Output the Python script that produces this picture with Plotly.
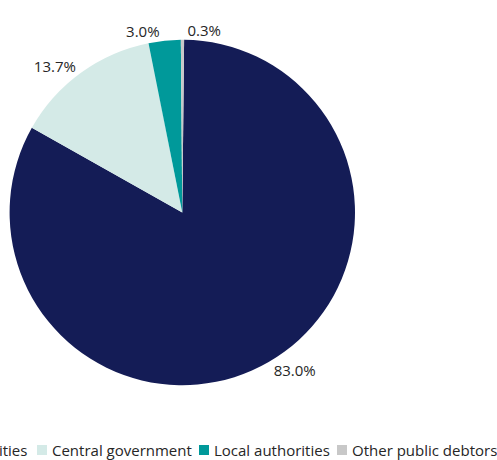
import plotly.graph_objects as go

labels = ["Municipalities", "Central government", "Local authorities", "Other public debtors"]
values = [83.0, 13.7, 3.0, 0.3]
colors = ["#141C56", "#D4EAE7", "#00999A", "#C8C8C8"]
text_labels = ["83.0%", "13.7%", "3.0%", "0.3%"]

W, H = 497, 460
FONT = "Open Sans"
TEXT_COLOR = "#262626"

# pie geometry (pixels): centre and radius
cx, cy, r = 182.3, 212.5, 172.7

fig = go.Figure(go.Pie(
    labels=labels,
    values=values,
    text=text_labels,
    textinfo="text",
    textposition="outside",
    sort=False,
    direction="clockwise",
    rotation=0.6,
    marker=dict(colors=colors, line=dict(width=0)),
    textfont=dict(family=FONT, size=15, color=TEXT_COLOR),
    domain=dict(x=[(cx - r) / W, (cx + r) / W],
                y=[(H - cy - r) / H, (H - cy + r) / H]),
    showlegend=False,
    hoverinfo="label+percent",
))

# Manual horizontal legend along the bottom (first entry runs off the left edge)
legend_text_left_px = [-71, 50, 212, 350]   # left edge of each legend text, px
legend_y_px = 450                            # vertical centre of the legend row, px
square = 10
for lab, col, tx in zip(labels, colors, legend_text_left_px):
    x0 = tx - square - 3
    fig.add_shape(type="rect", xref="paper", yref="paper",
                  x0=x0 / W, x1=(x0 + square) / W,
                  y0=(H - legend_y_px - square / 2) / H, y1=(H - legend_y_px + square / 2) / H,
                  fillcolor=col, line=dict(width=0))
    fig.add_annotation(text=lab, xref="paper", yref="paper",
                       x=tx / W, y=(H - legend_y_px) / H,
                       xanchor="left", yanchor="middle", showarrow=False,
                       font=dict(family=FONT, size=15, color=TEXT_COLOR))

fig.update_layout(
    width=W, height=H,
    margin=dict(l=0, r=0, t=0, b=0, autoexpand=False),
    paper_bgcolor="white",
    plot_bgcolor="white",
    font=dict(family=FONT, size=15, color=TEXT_COLOR),
    showlegend=False,
)

fig.write_html("out.html", config={"displayModeBar": False},
               post_script="document.body.style.margin='0';")
